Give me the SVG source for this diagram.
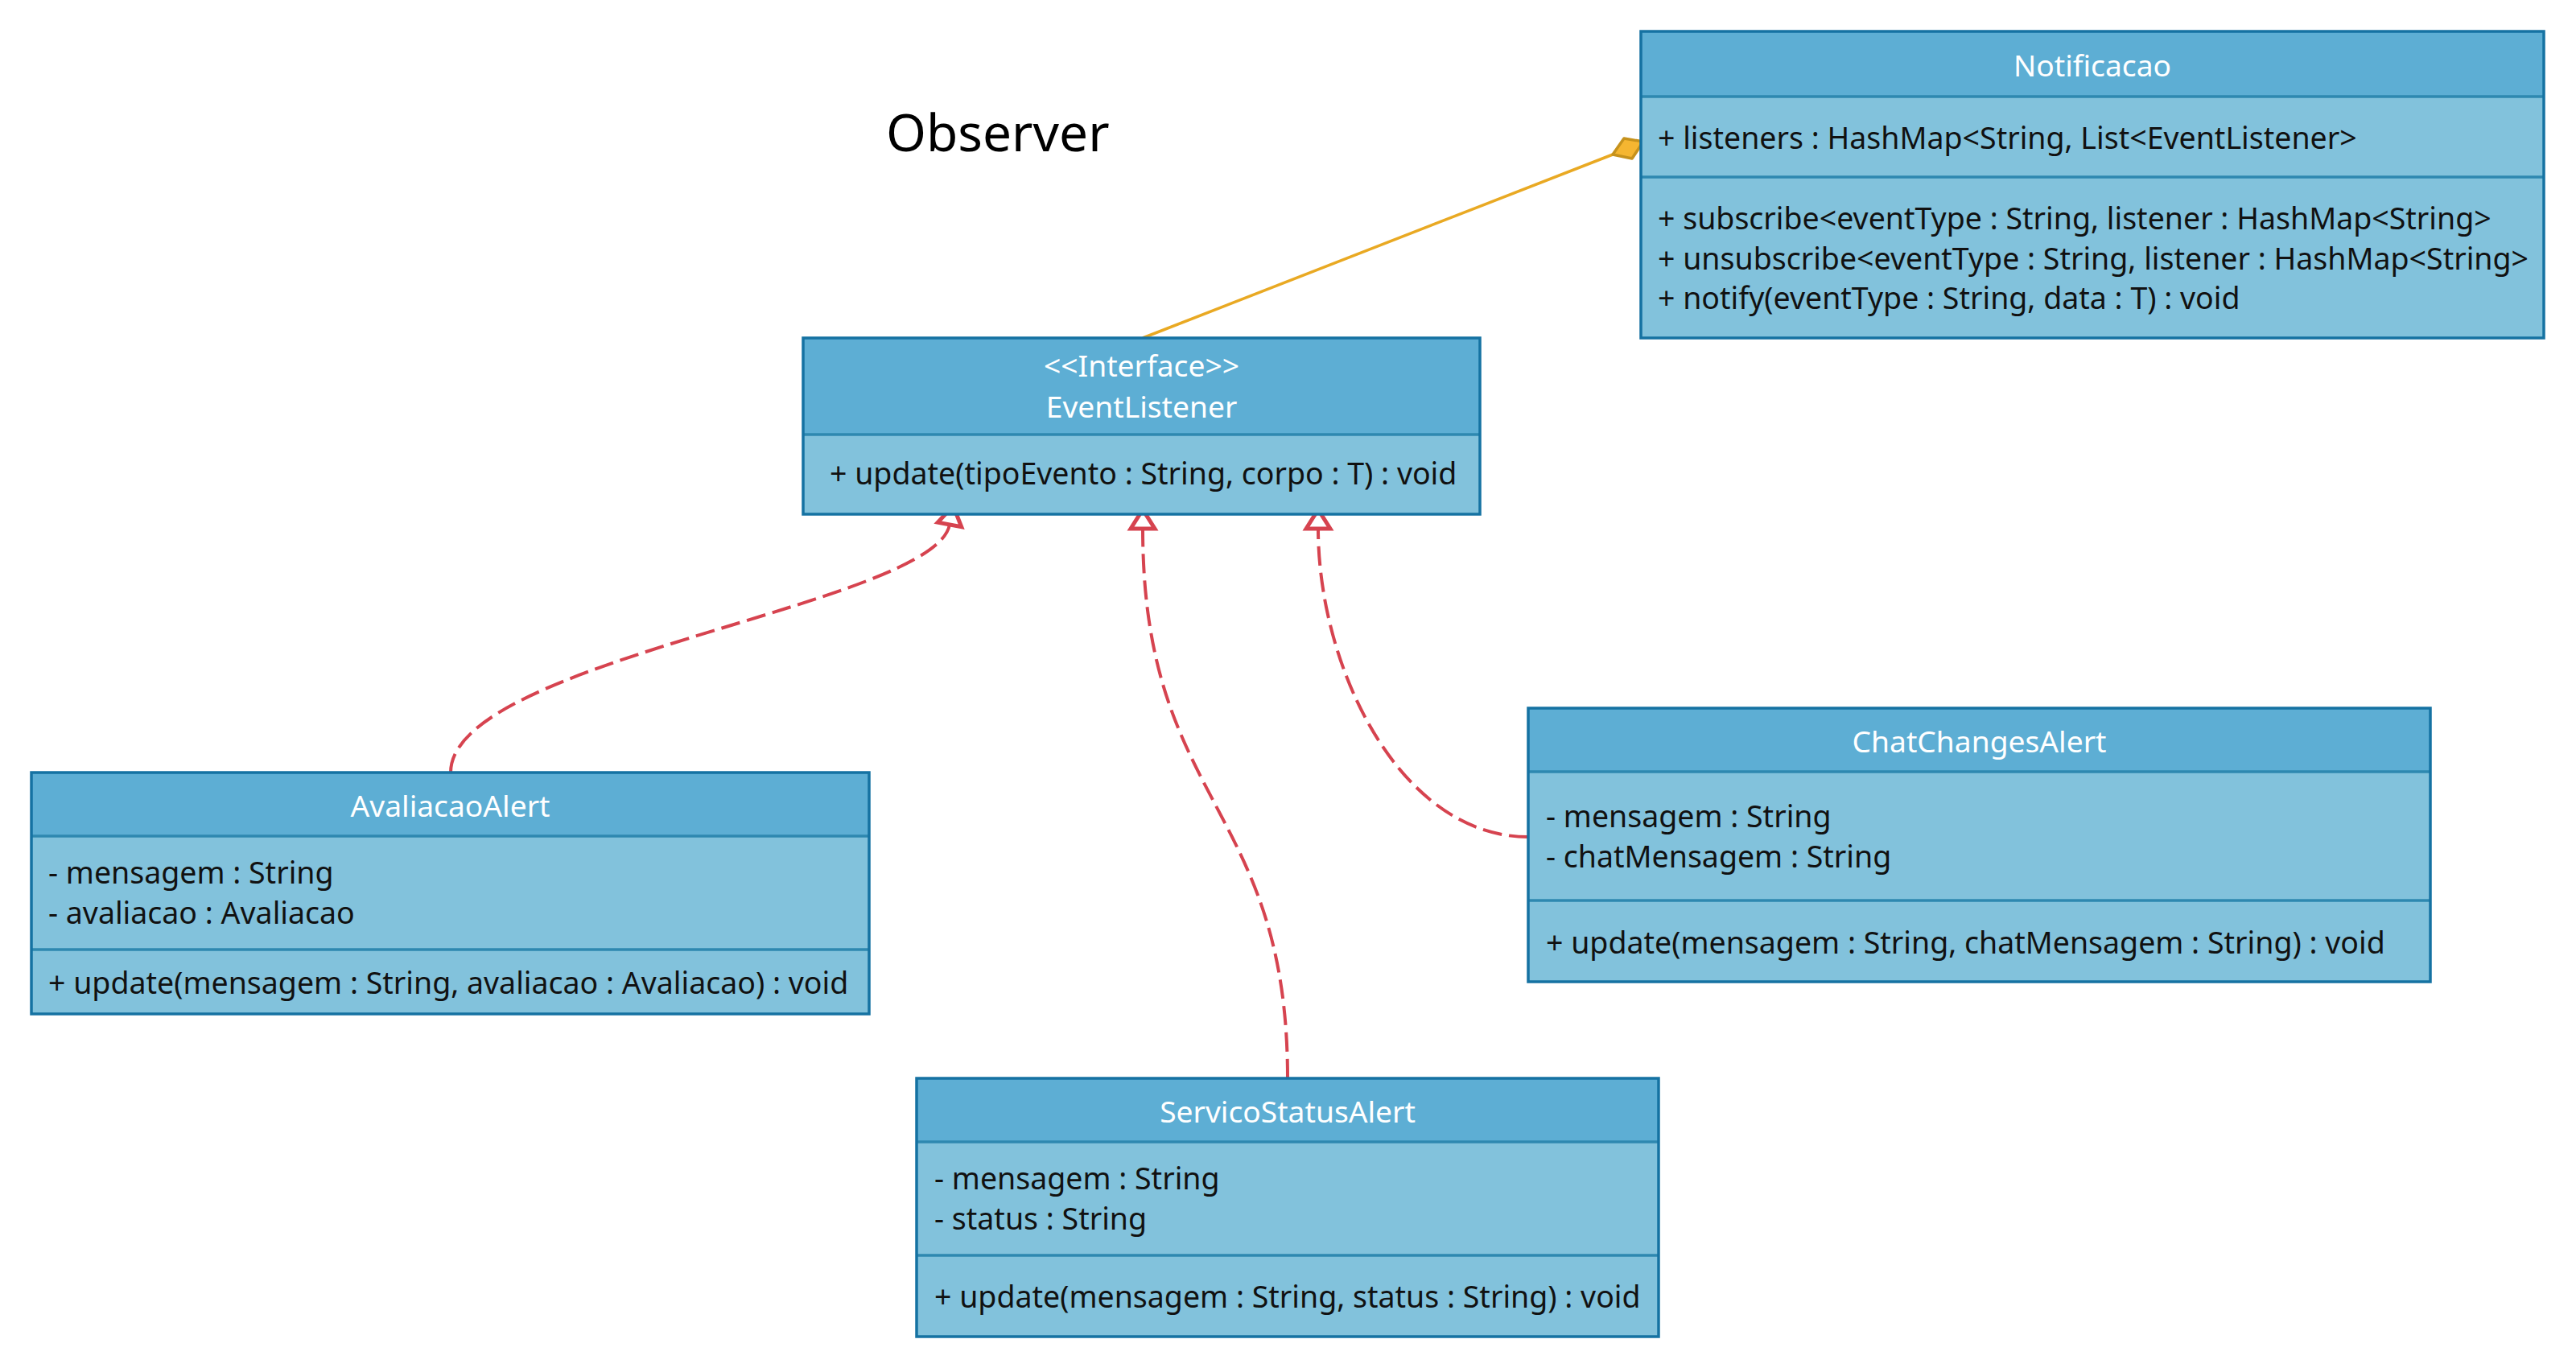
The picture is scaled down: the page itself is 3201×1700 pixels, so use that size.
<svg xmlns="http://www.w3.org/2000/svg" width="3201" height="1700" viewBox="0 0 3201 1700">
  <style>
    .body { fill: #82C2DC; }
    .head { fill: #5DAED4; }
    .frame { fill: none; stroke: #1572A2; stroke-width: 3.5; }
    .sep { stroke: #2E88B0; stroke-width: 3.5; }
    .name { font-family: "Noto Sans", "Open Sans", sans-serif; font-size: 37.2px; fill: #FFFFFF; text-anchor: middle; }
    .member { font-family: "Noto Sans", "Open Sans", sans-serif; font-size: 37.5px; fill: #111111; }
    .title { font-family: "Noto Sans", "Open Sans", sans-serif; font-size: 64px; fill: #000000; }
    .realize { fill: none; stroke: #D6434F; stroke-width: 4; stroke-dasharray: 24 9; }
    .assoc { fill: none; stroke: #E9A923; stroke-width: 3.5; }
  </style>
  <defs>
    <marker id="hollowTri" markerUnits="userSpaceOnUse" markerWidth="40" markerHeight="40" viewBox="-4 -16 30 32" refX="0" refY="0" orient="auto">
      <path d="M0,-12 L19,0 L0,12 Z" fill="#FFFFFF" stroke="#D6434F" stroke-width="4" stroke-linejoin="miter"/>
    </marker>
  </defs>

  <rect width="3201" height="1700" fill="#FFFFFF"/>

  <text class="title" x="1101" y="188">Observer</text>

  <!-- connectors -->
  <g id="connectors">
    <line class="assoc" x1="1420" y1="420" x2="2004" y2="192"/>
    <path d="M2004,192 L2018,172 L2042,176 L2028,197 Z" fill="#F5B631" stroke="#C6921C" stroke-width="3.5" stroke-linejoin="round"/>
    <path class="realize" d="M560,960 C560,820 1161,752 1180,652" marker-end="url(#hollowTri)"/>
    <path class="realize" d="M1600,1340 C1600,1000 1420,1000 1420,657" marker-end="url(#hollowTri)"/>
    <path class="realize" d="M1899,1040 C1740,1040 1638,830 1638,657" marker-end="url(#hollowTri)"/>
  </g>

  <!-- Notificacao -->
  <g id="notificacao">
    <rect class="body" x="2039" y="39" width="1122" height="381"/>
    <rect class="head" x="2039" y="39" width="1122" height="81"/>
    <line class="sep" x1="2039" y1="120" x2="3161" y2="120"/>
    <line class="sep" x1="2039" y1="220" x2="3161" y2="220"/>
    <rect class="frame" x="2039" y="39" width="1122" height="381"/>
    <text class="name" x="2600" y="95">Notificacao</text>
    <text class="member" x="2060" y="185">+ listeners : HashMap&lt;String, List&lt;EventListener&gt;</text>
    <text class="member" x="2060" y="285">+ subscribe&lt;eventType : String, listener : HashMap&lt;String&gt;</text>
    <text class="member" x="2060" y="335">+ unsubscribe&lt;eventType : String, listener : HashMap&lt;String&gt;</text>
    <text class="member" x="2060" y="384">+ notify(eventType : String, data : T) : void</text>
  </g>

  <!-- EventListener -->
  <g id="eventListener">
    <rect class="body" x="998" y="420" width="841" height="219"/>
    <rect class="head" x="998" y="420" width="841" height="120"/>
    <line class="sep" x1="998" y1="540" x2="1839" y2="540"/>
    <rect class="frame" x="998" y="420" width="841" height="219"/>
    <text class="name" x="1418.5" y="468">&lt;&lt;Interface&gt;&gt;</text>
    <text class="name" x="1418.5" y="519">EventListener</text>
    <text class="member" x="1031" y="602">+ update(tipoEvento : String, corpo : T) : void</text>
  </g>

  <!-- AvaliacaoAlert -->
  <g id="avaliacaoAlert">
    <rect class="body" x="39" y="960" width="1041" height="300"/>
    <rect class="head" x="39" y="960" width="1041" height="79"/>
    <line class="sep" x1="39" y1="1039" x2="1080" y2="1039"/>
    <line class="sep" x1="39" y1="1180" x2="1080" y2="1180"/>
    <rect class="frame" x="39" y="960" width="1041" height="300"/>
    <text class="name" x="559.5" y="1015">AvaliacaoAlert</text>
    <text class="member" x="60" y="1098">- mensagem : String</text>
    <text class="member" x="60" y="1148">- avaliacao : Avaliacao</text>
    <text class="member" x="60" y="1235">+ update(mensagem : String, avaliacao : Avaliacao) : void</text>
  </g>

  <!-- ChatChangesAlert -->
  <g id="chatChangesAlert">
    <rect class="body" x="1899" y="880" width="1121" height="340"/>
    <rect class="head" x="1899" y="880" width="1121" height="79"/>
    <line class="sep" x1="1899" y1="959" x2="3020" y2="959"/>
    <line class="sep" x1="1899" y1="1119" x2="3020" y2="1119"/>
    <rect class="frame" x="1899" y="880" width="1121" height="340"/>
    <text class="name" x="2459.5" y="935">ChatChangesAlert</text>
    <text class="member" x="1921" y="1028">- mensagem : String</text>
    <text class="member" x="1921" y="1078">- chatMensagem : String</text>
    <text class="member" x="1921" y="1185">+ update(mensagem : String, chatMensagem : String) : void</text>
  </g>

  <!-- ServicoStatusAlert -->
  <g id="servicoStatusAlert">
    <rect class="body" x="1139" y="1340" width="922" height="321"/>
    <rect class="head" x="1139" y="1340" width="922" height="79"/>
    <line class="sep" x1="1139" y1="1419" x2="2061" y2="1419"/>
    <line class="sep" x1="1139" y1="1560" x2="2061" y2="1560"/>
    <rect class="frame" x="1139" y="1340" width="922" height="321"/>
    <text class="name" x="1600" y="1395">ServicoStatusAlert</text>
    <text class="member" x="1161" y="1478">- mensagem : String</text>
    <text class="member" x="1161" y="1528">- status : String</text>
    <text class="member" x="1161" y="1625">+ update(mensagem : String, status : String) : void</text>
  </g>
</svg>
